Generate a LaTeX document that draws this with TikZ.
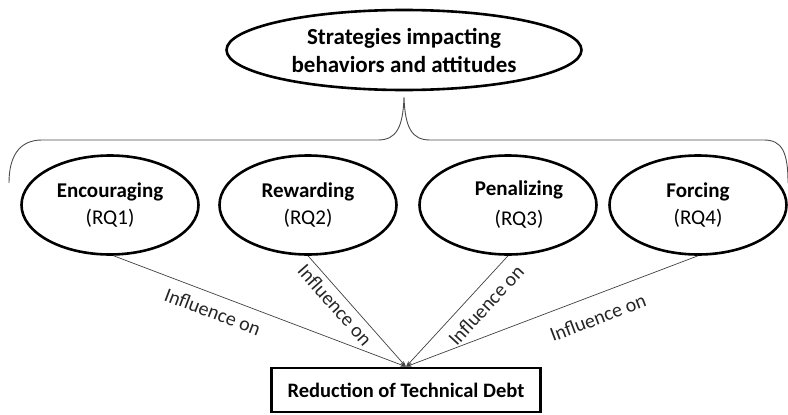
\documentclass[tikz,border=0pt]{standalone}
\usepackage{fontspec}
\setmainfont{Carlito}
\usetikzlibrary{arrows.meta,shapes.geometric}
\begin{document}
\begin{tikzpicture}[x=1pt,y=-1pt,
  oval/.style={ellipse, draw=black, line width=2.6pt, minimum width=177pt, minimum height=99pt,
    inner sep=0pt, font=\fontsize{21}{27}\selectfont, align=center},
  topoval/.style={ellipse, draw=black, line width=2.6pt, minimum width=355pt, minimum height=80pt,
    inner sep=0pt, font=\bfseries\fontsize{23}{28}\selectfont, align=center},
  resbox/.style={draw=black, line width=2.6pt, minimum width=269pt, minimum height=44pt,
    inner sep=0pt, font=\bfseries\fontsize{20.5}{24}\selectfont},
  brace/.style={draw=black!70, line width=0.9pt},
  infl/.style={draw=black!75, line width=0.7pt, -{Stealth[length=6pt,width=4pt]}},
  lbl/.style={sloped, font=\fontsize{20}{22}\selectfont, text=black!85, inner sep=3pt}
]
\useasboundingbox (0,0) rectangle (788,415);

\node[topoval] (top) at (404,50) {Strategies impacting\\behaviors and attitudes};

\node[oval] (enc) at (110,205) {\textbf{Encouraging}\\(RQ1)};
\node[oval] (rew) at (308,205) {\textbf{Rewarding}\\(RQ2)};
\node[oval] (pen) at (508,205) {\hspace*{22pt}\begin{tabular}{@{}c@{}}\textbf{Penalizing}\\[3pt](RQ3)\end{tabular}};
\node[oval] (for) at (698,205) {\textbf{Forcing}\\(RQ4)};

\node[resbox] (res) at (406,390) {Reduction of Technical Debt};

\coordinate (bl) at (9,183);
\coordinate (tip) at (404,97);
\coordinate (br) at (788,183);
\draw[brace] (bl) .. controls (9,158) and (18,140) .. (42,140) -- (378,140)
  .. controls (396,140) and (403,128) .. (tip)
  .. controls (405,128) and (412,140) .. (430,140) -- (764,140)
  .. controls (782,140) and (788,152) .. (br);

\draw[infl] (enc.-86) -- node[lbl, below=7pt, pos=0.36] {Influence on} (res.north);
\draw[infl] (rew.south) -- node[lbl, below=2pt, pos=0.37] {Influence on} (res.north);
\draw[infl] (pen.south) -- node[lbl, below=7pt, pos=0.34] {Influence on} (res.north);
\draw[infl] (for.south) -- node[lbl, below=12pt, pos=0.37] {Influence on} (res.north);
\end{tikzpicture}
\end{document}
